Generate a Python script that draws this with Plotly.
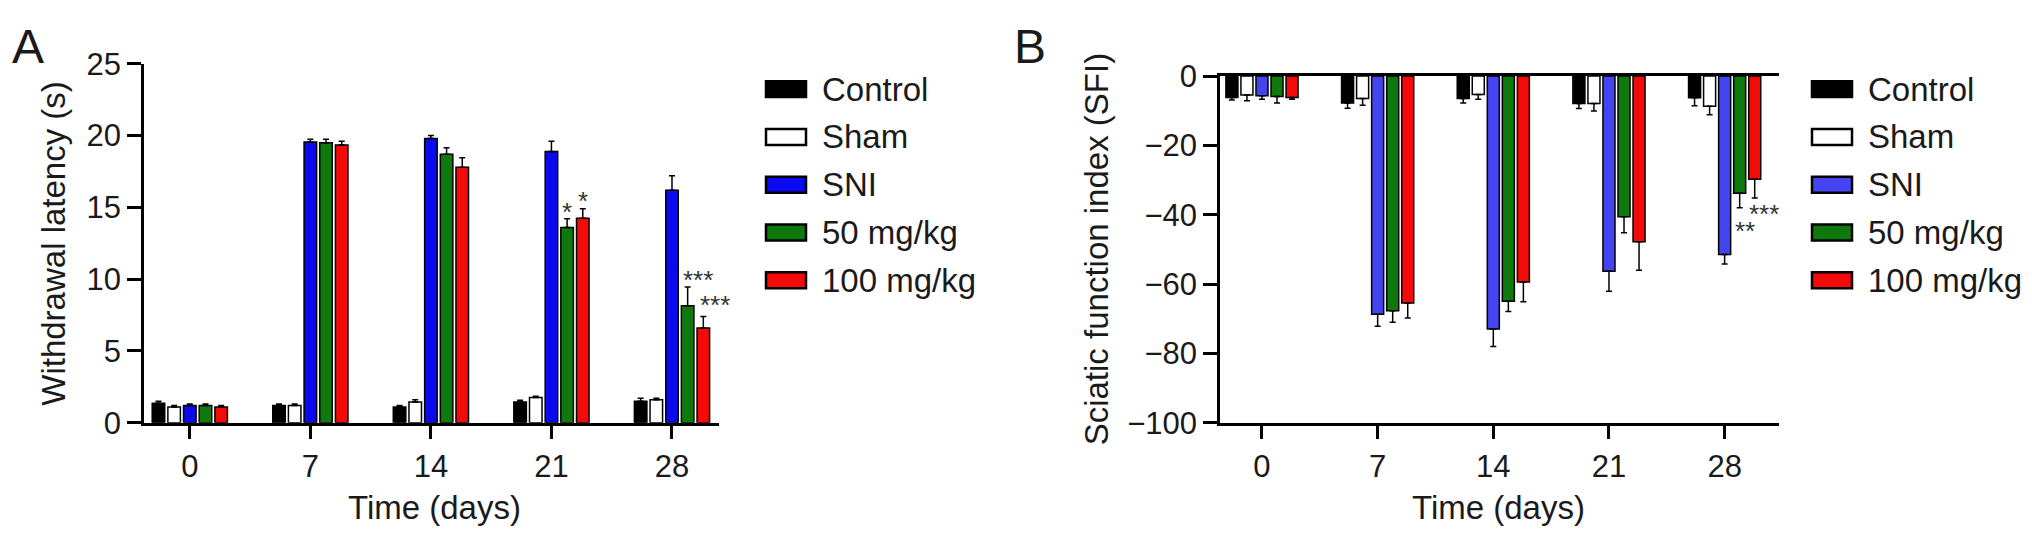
import plotly.graph_objects as go

W, H = 2032, 555
FONT = "Liberation Sans, Arial, Helvetica, sans-serif"

days = ["0", "7", "14", "21", "28"]
groups = ["Control", "Sham", "SNI", "50 mg/kg", "100 mg/kg"]

# panel A - withdrawal latency (s), mean and SEM per group
latency = {
    "Control":   [1.35, 1.20, 1.10, 1.45, 1.50],
    "Sham":      [1.10, 1.20, 1.45, 1.75, 1.60],
    "SNI":       [1.20, 19.55, 19.80, 18.90, 16.20],
    "50 mg/kg":  [1.20, 19.50, 18.70, 13.60, 8.15],
    "100 mg/kg": [1.10, 19.35, 17.80, 14.25, 6.60],
}
latency_err = {
    "Control":   [0.15, 0.10, 0.10, 0.12, 0.20],
    "Sham":      [0.10, 0.10, 0.15, 0.10, 0.10],
    "SNI":       [0.10, 0.20, 0.20, 0.70, 1.00],
    "50 mg/kg":  [0.10, 0.25, 0.45, 0.60, 1.30],
    "100 mg/kg": [0.10, 0.25, 0.65, 0.65, 0.80],
}

# panel B - sciatic function index
sfi = {
    "Control":   [-6.2, -7.8, -6.5, -7.9, -6.3],
    "Sham":      [-5.5, -6.5, -5.3, -7.9, -8.7],
    "SNI":       [-5.7, -68.7, -73.0, -56.3, -51.5],
    "50 mg/kg":  [-5.9, -67.7, -65.0, -40.6, -33.8],
    "100 mg/kg": [-6.2, -65.5, -59.4, -47.8, -29.8],
}
sfi_err = {
    "Control":   [0.7, 1.5, 1.3, 1.5, 2.3],
    "Sham":      [1.6, 1.9, 1.4, 2.2, 2.5],
    "SNI":       [1.0, 3.5, 5.0, 5.8, 2.7],
    "50 mg/kg":  [1.9, 3.3, 2.9, 4.6, 4.2],
    "100 mg/kg": [0.5, 4.3, 5.7, 8.2, 5.4],
}

colors_a = ["#000000", "#ffffff", "#0a0aee", "#0e7a0e", "#f50a0a"]
colors_b = ["#000000", "#ffffff", "#4444f0", "#0e7a0e", "#f50a0a"]

# significance marks: (panel, day index, group index, text, xshift px, gap)
stars = [
    ("A", 3, 3, "*", 0, 1.0),
    ("A", 3, 4, "*", 0, 1.0),
    ("A", 4, 3, "***", 10, 1.0),
    ("A", 4, 4, "***", 12, 1.3),
    ("B", 4, 3, "**", 5, 4.6),
    ("B", 4, 4, "***", 9, 2.7),
]

BARGAP = 0.35
SLOT = (1 - BARGAP) / len(groups)


def px(x):
    return x / W


def py(y):
    return 1 - y / H


fig = go.Figure()

for i, g in enumerate(groups):
    fig.add_trace(go.Bar(
        x=days, y=latency[g], name=g, showlegend=False,
        marker=dict(color=colors_a[i], line=dict(color="black", width=1.5)),
        error_y=dict(type="data", symmetric=False, array=latency_err[g],
                     arrayminus=[0] * len(days), color="black",
                     thickness=1.5, width=3),
        xaxis="x", yaxis="y",
    ))
    fig.add_trace(go.Bar(
        x=days, y=sfi[g], name=g, showlegend=False,
        marker=dict(color=colors_b[i], line=dict(color="black", width=1.5)),
        error_y=dict(type="data", symmetric=False, array=[0] * len(days),
                     arrayminus=sfi_err[g], color="black",
                     thickness=1.5, width=3),
        xaxis="x2", yaxis="y2",
    ))

axis_common = dict(
    showline=True, linecolor="black", linewidth=2.5,
    ticks="outside", tickcolor="black", tickwidth=2.5, ticklen=14,
    showgrid=False, zeroline=False,
    tickfont=dict(family=FONT, size=31, color="#1a1a1a"),
)

fig.update_layout(
    width=W, height=H,
    margin=dict(l=0, r=0, t=0, b=0),
    paper_bgcolor="white", plot_bgcolor="white",
    barmode="group", bargap=BARGAP, bargroupgap=0.2,
    font=dict(family=FONT, color="#1a1a1a"),
    xaxis=dict(domain=[px(144), px(719)], range=[-0.38, 4.39],
               type="category", anchor="y", **axis_common),
    yaxis=dict(domain=[py(433), py(50)], range=[0, 25], dtick=5,
               anchor="x", **axis_common),
    xaxis2=dict(domain=[px(1220), px(1779)], range=[-0.363, 4.47],
                type="category", anchor="y2", mirror=True, **axis_common),
    yaxis2=dict(domain=[py(433), py(63)], range=[-100, 0], dtick=20,
                anchor="x2", **axis_common),
)

ann = []
# axis titles and panel letters
ann.append(dict(text="Withdrawal latency (s)", x=px(54), y=py(242), textangle=-90,
                font=dict(size=33)))
ann.append(dict(text="Time (days)", x=px(434), y=py(523), font=dict(size=33)))
ann.append(dict(text="Sciatic function index (SFI)", x=px(1096), y=py(248),
                textangle=-90, font=dict(size=33)))
ann.append(dict(text="Time (days)", x=px(1498), y=py(523), font=dict(size=33)))
ann.append(dict(text="A", x=px(28), y=py(31), font=dict(size=48)))
ann.append(dict(text="B", x=px(1030), y=py(31), font=dict(size=48)))
for a in ann:
    a.update(xref="paper", yref="paper", showarrow=False,
             xanchor="center", yanchor="middle")

# significance stars, placed at the end of each error bar
for panel, d, gi, txt, xs, gap in stars:
    g = groups[gi]
    off = (gi - (len(groups) - 1) / 2) * SLOT
    if panel == "A":
        yv = latency[g][d] + latency_err[g][d] + gap
        xr, yr = "x", "y"
    else:
        yv = sfi[g][d] - sfi_err[g][d] - gap
        xr, yr = "x2", "y2"
    ann.append(dict(text=txt, x=d + off, y=yv, xref=xr, yref=yr,
                    showarrow=False, xanchor="center", yanchor="middle",
                    xshift=xs, yshift=-7, font=dict(size=26, color="#333")))

# legends drawn as swatches + labels
shapes = []
for sx, tx, cols in [(766, 820, colors_a), (1812, 1866, colors_b)]:
    for i, g in enumerate(groups):
        yc = 77 + 51 * i
        shapes.append(dict(type="rect", xref="paper", yref="paper",
                           x0=px(sx), x1=px(sx + 40), y0=py(yc + 8.5), y1=py(yc - 8.5),
                           fillcolor=cols[i], line=dict(color="black", width=2.5)))
        ann.append(dict(text=g, x=px(tx), y=py(yc), xref="paper", yref="paper",
                        showarrow=False, xanchor="left", yanchor="middle",
                        font=dict(size=33)))

fig.update_layout(annotations=ann, shapes=shapes)

# drop the default body margin so the figure sits at the page corner
fig.write_html("out.html", config={"displayModeBar": False},
               post_script="document.body.style.margin='0';")
